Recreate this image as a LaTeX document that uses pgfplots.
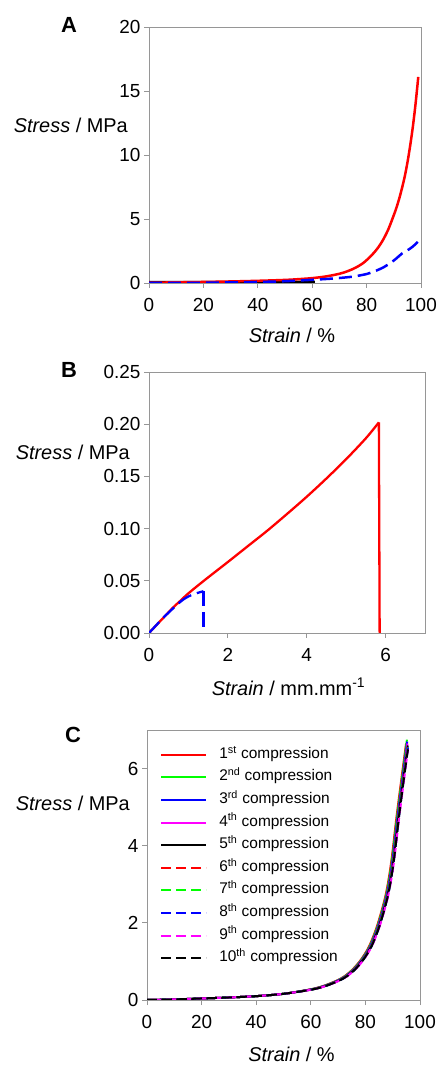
\documentclass[border=0pt]{standalone}
\usepackage{fontspec}
\setmainfont{Liberation Sans}
\usepackage{pgfplots}
\pgfplotsset{compat=1.18}

\definecolor{frame}{RGB}{150,150,150}
\definecolor{pred}{RGB}{255,0,0}
\definecolor{pgreen}{RGB}{0,255,0}
\definecolor{pblue}{RGB}{0,0,255}
\definecolor{pmag}{RGB}{255,0,255}

\pgfplotsset{
  panel/.style={
    scale only axis,
    tick pos=left,
    tick align=outside,
    major tick length=5bp,
    axis line style={frame, line width=0.8bp},
    every tick/.style={frame, line width=0.8bp},
    tick label style={font=\fontsize{19}{22}\selectfont},
    xticklabel style={yshift=-7bp},
    /pgf/number format/assume math mode=true,
  },
  cdash/.style={dash pattern=on 10bp off 5bp},
}

\newcommand{\lab}{\fontsize{20}{24}\selectfont}

\begin{document}
\begin{tikzpicture}
\path[use as bounding box] (0bp,0bp) rectangle (437bp,1065bp);

% ---------- A ----------
\begin{axis}[panel, at={(149bp,782bp)}, anchor=south west,
  width=272bp, height=256bp,
  xmin=0, xmax=100, ymin=0, ymax=20,
  xtick={0,20,40,60,80,100}, ytick={0,5,10,15,20}]
\addplot[black, line width=2.8bp] coordinates {(0,0.05) (20,0.05) (40,0.06) (61,0.07)};
\addplot[pred, line width=2.5bp, smooth] coordinates {
 (0,0.02) (10,0.05) (20,0.08) (30,0.12) (40,0.17) (50,0.24) (55,0.30) (60,0.38)
 (65,0.51) (70,0.72) (73,0.92) (76,1.20) (79,1.60) (82,2.20) (84,2.70) (86,3.35)
 (88,4.20) (90,5.30) (91,5.90) (92,6.60) (93,7.40) (94,8.30) (95,9.40) (96,10.7)
 (97,12.2) (98,14.0) (99,16.1)};
\addplot[pblue, line width=2.5bp, smooth, dash pattern=on 13bp off 6bp] coordinates {
 (0,0.0) (20,0.02) (40,0.08) (50,0.14) (60,0.25) (65,0.31) (70,0.39) (75,0.50)
 (80,0.70) (83,0.92) (86,1.20) (89,1.60) (91,1.93) (93,2.30) (95,2.55) (97,2.85) (99,3.25)};
\end{axis}

% ---------- B ----------
\begin{axis}[panel, at={(149bp,432bp)}, anchor=south west,
  width=276bp, height=261bp,
  xmin=0, xmax=7, ymin=0, ymax=0.25,
  xtick={0,2,4,6}, ytick={0,0.05,0.1,0.15,0.2,0.25},
  yticklabel style={/pgf/number format/fixed, /pgf/number format/fixed zerofill,
    /pgf/number format/precision=2}]
\addplot[pred, line width=2.3bp, smooth] coordinates {
 (0,0) (0.2,0.008) (0.4,0.016) (0.6,0.024) (0.8,0.031) (1.0,0.038) (1.39,0.050)
 (2,0.068) (2.5,0.083) (3,0.098) (3.5,0.114) (4,0.1305) (4.5,0.148) (5,0.1665)
 (5.5,0.1865) (5.83,0.2017)};
\addplot[pred, line width=2.3bp] coordinates {(5.83,0.2017) (5.85,0)};
\addplot[pblue, line width=2.3bp, smooth, dash pattern=on 15bp off 6bp] coordinates {
 (0,0) (0.4,0.016) (0.8,0.030) (1.0,0.035) (1.2,0.038) (1.38,0.040)};
\addplot[pblue, line width=2.3bp, dash pattern=on 15bp off 6bp] coordinates {(1.38,0.040) (1.38,0)};
\end{axis}

% ---------- C ----------
\begin{axis}[panel, at={(147bp,65bp)}, anchor=south west,
  width=273bp, height=270bp,
  xmin=0, xmax=100, ymin=0, ymax=7,
  xtick={0,20,40,60,80,100}, ytick={0,2,4,6},
  legend style={at={(axis description cs:0.048,0.937)}, anchor=north west,
    draw=none, fill=none, inner sep=0pt, row sep=7.6bp, column sep=12bp,
    font=\fontsize{15.5}{18}\selectfont,
    nodes={inner sep=0pt, text height=11bp, text depth=4bp}},
  legend cell align=left,
  legend image code/.code={\draw[#1] (0bp,0bp) -- (45bp,0bp);}]
\addplot[pred, line width=2bp, smooth] coordinates {
 (0,0) (10,0.015) (20,0.04) (30,0.065) (40,0.10) (50,0.16) (59.4,0.27) (64.4,0.36)
 (69.4,0.50) (72.4,0.62) (75.4,0.80) (78.4,1.05) (81.4,1.40) (84.4,1.95) (87.4,2.72)
 (89.4,3.55) (91.4,4.75) (93.4,5.85) (94.9,6.65)};
\addplot[pgreen, line width=2bp, smooth] coordinates {
 (0,0) (10,0.015) (20,0.04) (30,0.065) (40,0.10) (50,0.16) (59.6,0.27) (64.6,0.36)
 (69.6,0.50) (72.6,0.62) (75.6,0.80) (78.6,1.05) (81.6,1.40) (84.6,1.95) (87.6,2.72)
 (89.6,3.55) (91.6,4.75) (93.6,5.85) (95.2,6.75)};
\addplot[pblue, line width=2bp, smooth] coordinates {
 (0,0) (10,0.015) (20,0.04) (30,0.065) (40,0.10) (50,0.16) (59.8,0.27) (64.8,0.36)
 (69.8,0.50) (72.8,0.62) (75.8,0.80) (78.8,1.05) (81.8,1.40) (84.8,1.95) (87.8,2.72)
 (89.8,3.55) (91.8,4.75) (93.8,5.85) (95.3,6.70)};
\addplot[pmag, line width=2bp, smooth] coordinates {
 (0,0) (10,0.015) (20,0.04) (30,0.065) (40,0.10) (50,0.16) (60,0.27) (65,0.36)
 (70,0.50) (73,0.62) (76,0.80) (79,1.05) (82,1.40) (85,1.95) (88,2.72)
 (90,3.55) (92,4.75) (94,5.85) (95.4,6.65)};
\addplot[black, line width=2bp, smooth] coordinates {
 (0,0) (10,0.015) (20,0.04) (30,0.065) (40,0.10) (50,0.16) (60.1,0.27) (65.1,0.36)
 (70.1,0.50) (73.1,0.62) (76.1,0.80) (79.1,1.05) (82.1,1.40) (85.1,1.95) (88.1,2.72)
 (90.1,3.55) (92.1,4.75) (94.1,5.85) (95.5,6.60)};
\addplot[pred, line width=2bp, smooth, cdash] coordinates {
 (0,0) (10,0.015) (20,0.04) (30,0.065) (40,0.10) (50,0.16) (60.2,0.27) (65.2,0.36)
 (70.2,0.50) (73.2,0.62) (76.2,0.80) (79.2,1.05) (82.2,1.40) (85.2,1.95) (88.2,2.72)
 (90.2,3.55) (92.2,4.75) (94.2,5.85) (95.5,6.60)};
\addplot[pgreen, line width=2bp, smooth, cdash] coordinates {
 (0,0) (10,0.015) (20,0.04) (30,0.065) (40,0.10) (50,0.16) (60.2,0.27) (65.2,0.36)
 (70.2,0.50) (73.2,0.62) (76.2,0.80) (79.2,1.05) (82.2,1.40) (85.2,1.95) (88.2,2.72)
 (90.2,3.55) (92.2,4.75) (94.2,5.85) (95.5,6.55)};
\addplot[pblue, line width=2bp, smooth, cdash] coordinates {
 (0,0) (10,0.015) (20,0.04) (30,0.065) (40,0.10) (50,0.16) (60.3,0.27) (65.3,0.36)
 (70.3,0.50) (73.3,0.62) (76.3,0.80) (79.3,1.05) (82.3,1.40) (85.3,1.95) (88.3,2.72)
 (90.3,3.55) (92.3,4.75) (94.3,5.85) (95.6,6.55)};
\addplot[pmag, line width=2bp, smooth, cdash] coordinates {
 (1.5,0) (10,0.015) (20,0.04) (30,0.065) (40,0.10) (50,0.16) (60.4,0.27) (65.4,0.36)
 (70.4,0.50) (73.4,0.62) (76.4,0.80) (79.4,1.05) (82.4,1.40) (85.4,1.95) (88.4,2.72)
 (90.4,3.55) (92.4,4.75) (94.4,5.85) (95.6,6.50)};
\addplot[black, line width=2bp, smooth, cdash] coordinates {
 (0,0) (10,0.015) (20,0.04) (30,0.065) (40,0.10) (50,0.16) (60.3,0.27) (65.3,0.36)
 (70.3,0.50) (73.3,0.62) (76.3,0.80) (79.3,1.05) (82.3,1.40) (85.3,1.95) (88.3,2.72)
 (90.3,3.55) (92.3,4.75) (94.3,5.85) (95.6,6.50)};
\legend{1\textsuperscript{st} compression, 2\textsuperscript{nd} compression,
  3\textsuperscript{rd} compression, 4\textsuperscript{th} compression,
  5\textsuperscript{th} compression, 6\textsuperscript{th} compression,
  7\textsuperscript{th} compression, 8\textsuperscript{th} compression,
  9\textsuperscript{th} compression, 10\textsuperscript{th} compression}
\end{axis}

% ---------- labels ----------
\node[font=\fontsize{22}{26}\selectfont\bfseries] at (69bp,1040bp) {A};
\node[font=\fontsize{22}{26}\selectfont\bfseries] at (69bp,695bp) {B};
\node[font=\fontsize{22}{26}\selectfont\bfseries] at (73bp,330bp) {C};
\node[font=\lab, anchor=east, inner sep=0pt] at (128bp,940bp) {\textit{Stress} / MPa};
\node[font=\lab, anchor=east, inner sep=0pt] at (130bp,613bp) {\textit{Stress} / MPa};
\node[font=\lab, anchor=east, inner sep=0pt] at (130bp,262bp) {\textit{Stress} / MPa};
\node[font=\lab, inner sep=0pt] at (292bp,730bp) {\textit{Strain} / \%};
\node[font=\lab, inner sep=0pt] at (288.5bp,378bp) {\textit{Strain} / mm.mm\textsuperscript{-1}};
\node[font=\lab, inner sep=0pt] at (291.5bp,11bp) {\textit{Strain} / \%};
\end{tikzpicture}
\end{document}
